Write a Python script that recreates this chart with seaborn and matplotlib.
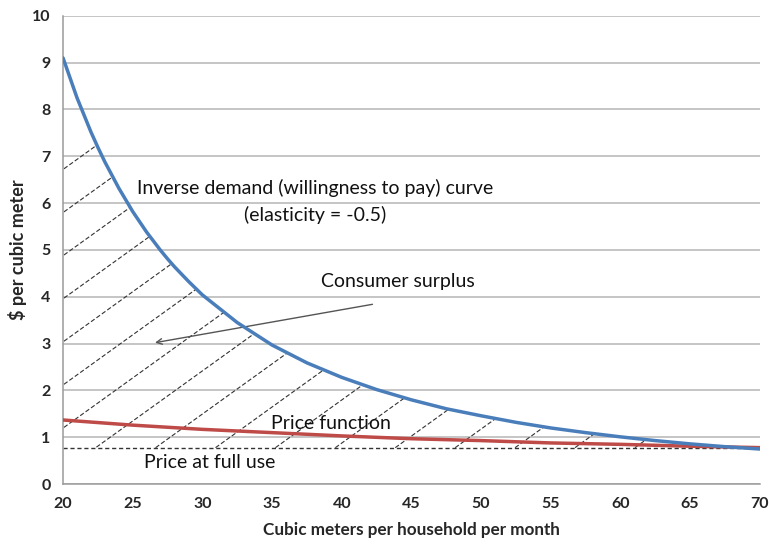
import matplotlib
matplotlib.use("Agg")

import matplotlib.pyplot as plt
import numpy as np
import pandas as pd
import seaborn as sns

# values
demand_q = [20, 21, 22, 22.5, 23, 24, 25, 26, 27, 27.5, 28, 29, 30, 32.5, 35, 37.5, 40,
            42.5, 45, 47.5, 50, 52.5, 55, 57.5, 60, 62.5, 65, 67.5, 70]
demand_p = [9.10, 8.25, 7.52, 7.19, 6.88, 6.32, 5.82, 5.38, 4.99, 4.81, 4.64, 4.33, 4.04,
            3.45, 2.97, 2.59, 2.28, 2.02, 1.80, 1.61, 1.46, 1.32, 1.20, 1.10, 1.01, 0.93,
            0.86, 0.80, 0.75]

price_q = [20, 25, 30, 35, 40, 45, 50, 55, 60, 65, 70]
price_p = [1.37, 1.26, 1.17, 1.10, 1.03, 0.97, 0.93, 0.88, 0.85, 0.81, 0.78]

full_use_price = 0.77

x_ticks = [20, 25, 30, 35, 40, 45, 50, 55, 60, 65, 70]
y_ticks = list(range(0, 11))

demand = pd.DataFrame({"q": demand_q, "p": demand_p})
price = pd.DataFrame({"q": price_q, "p": price_p})

sns.set_style("white")
plt.rcParams["font.family"] = ["Lato", "DejaVu Sans"]

fig = plt.figure(figsize=(7.69, 5.44), dpi=100)
ax = fig.add_axes([0.082, 0.110, 0.906, 0.861])

ax.set_xlim(20, 70)
ax.set_ylim(0, 10)
ax.set_yticks(y_ticks)
ax.set_xticks(x_ticks)
ax.yaxis.grid(True, color="#b5b5b5", linewidth=1.1)
ax.set_axisbelow(True)
for side in ["top", "right"]:
    ax.spines[side].set_visible(False)
for side in ["left", "bottom"]:
    ax.spines[side].set_color("#9a9a9a")
    ax.spines[side].set_linewidth(1.1)
ax.tick_params(axis="both", direction="out", length=5, width=1.0, color="#9a9a9a",
               labelsize=11.5, pad=4)
for lab in ax.get_xticklabels() + ax.get_yticklabels():
    lab.set_fontweight("bold")

# consumer surplus region, hatched with thin dashed lines
region = ax.fill_between(demand["q"], full_use_price, demand["p"],
                         where=np.array(demand_p) >= full_use_price,
                         facecolor="none", edgecolor="none")
clip = region.get_paths()[0]
slope = 0.214
for k in range(-7, 12):
    x0 = 22.3 + 4.3 * k
    xs = np.array([x0 - 40, x0 + 60])
    line, = ax.plot(xs, full_use_price + slope * (xs - x0), color="#333333",
                    linewidth=0.8, linestyle=(0, (4, 2)), zorder=2)
    line.set_clip_path(clip, ax.transData)

ax.plot([20, 70], [full_use_price, full_use_price], color="#333333", linewidth=1.0,
        linestyle=(0, (3, 2)), zorder=2)

sns.lineplot(data=price, x="q", y="p", ax=ax, color="#be4b48", linewidth=2.5, zorder=3)
sns.lineplot(data=demand, x="q", y="p", ax=ax, color="#4a7ebb", linewidth=2.5, zorder=4)

fs = 14
ax.text(38.1, 6.32, "Inverse demand (willingness to pay) curve", ha="center",
        va="center", fontsize=fs, color="#111111")
ax.text(38.1, 5.75, "(elasticity = -0.5)", ha="center", va="center", fontsize=fs,
        color="#111111")
ax.text(44.0, 4.32, "Consumer surplus", ha="center", va="center", fontsize=fs,
        color="#111111")
ax.annotate("", xy=(26.4, 3.01), xytext=(42.4, 3.85),
            arrowprops=dict(arrowstyle="->", color="#555555", linewidth=1.0))
ax.text(39.2, 1.29, "Price function", ha="center", va="center", fontsize=fs,
        color="#111111")
ax.text(30.5, 0.47, "Price at full use", ha="center", va="center", fontsize=fs,
        color="#111111")

ax.set_xlabel("Cubic meters per household per month", fontsize=12.3, fontweight="bold",
              labelpad=8)
ax.set_ylabel("$ per cubic meter", fontsize=13, fontweight="bold", labelpad=4)

fig.savefig("out.png", dpi=100)
plt.close(fig)
